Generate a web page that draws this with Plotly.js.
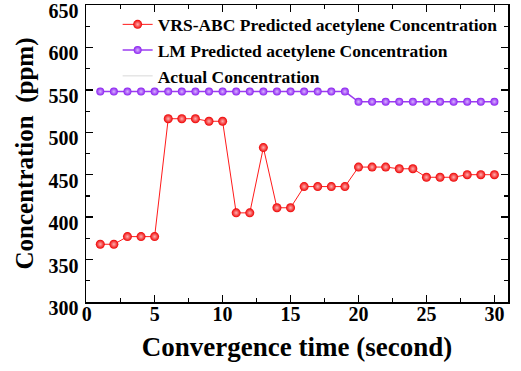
<!DOCTYPE html>
<html><head><meta charset="utf-8">
<script src="https://cdn.plot.ly/plotly-3.0.1.min.js"></script>
<style>html,body{margin:0;padding:0;background:#fff}#c{width:521px;height:371px}</style>
</head><body><div id="c"></div>
<script>
const time = [1,2,3,4,5,6,7,8,9,10,11,12,13,14,15,16,17,18,19,20,21,22,23,24,25,26,27,28,29,30];
const vrsAbc = [368,368,377,377,377,516,516,516,513,513,405,405,482,411,411,436,436,436,436,459,459,459,457,457,447,447,447,450,450,450];
const lm = [548,548,548,548,548,548,548,548,548,548,548,548,548,548,548,548,548,548,548,536,536,536,536,536,536,536,536,536,536,536];
const actualX = [null];
const actualY = [null];
const xTicks = [0,5,10,15,20,25,30];
const yTicks = [300,350,400,450,500,550,600,650];
const names = ['VRS-ABC Predicted acetylene Concentration','LM Predicted acetylene Concentration','Actual Concentration'];

const F = 'Liberation Serif, Times New Roman, serif';
const traces = [
  {x: time, y: vrsAbc, name: names[0], mode: 'lines+markers', type: 'scatter',
   line: {color: '#ff1a1a', width: 1},
   marker: {color: '#ee0000', size: 9, gradient: {type: 'radial', color: '#ffb0b0'}}},
  {x: time, y: lm, name: names[1], mode: 'lines+markers', type: 'scatter',
   line: {color: '#9b3cf0', width: 1.5},
   marker: {color: '#8a1ff0', size: 8, gradient: {type: 'radial', color: '#d9b3ff'}}},
  {x: actualX, y: actualY, name: names[2], mode: 'lines', type: 'scatter',
   line: {color: '#d8d8d8', width: 1}}
];
const tickFont = {family: F, size: 20, color: '#000', weight: 'bold'};
const axBase = {showline: true, linecolor: '#000', linewidth: 1.5, mirror: 'ticks', ticks: 'inside',
  ticklen: 7, tickwidth: 1.5, tickcolor: '#000', showgrid: false, zeroline: false,
  ticklabeloverflow: 'allow', tickfont: tickFont};
const layout = {
  width: 521, height: 371, margin: {l: 86, r: 13, t: 5, b: 69},
  paper_bgcolor: '#fff', plot_bgcolor: '#fff', showlegend: true,
  font: {family: F, color: '#000'},
  xaxis: Object.assign({}, axBase, {range: [-0.05, 31], tickmode: 'array', tickvals: xTicks,
    ticklabelstandoff: -7,
    minor: {ticks: 'inside', ticklen: 4, tickwidth: 1.2, dtick: 2.5, tickcolor: '#000'},
    title: {text: 'Convergence time (second)', font: {family: F, size: 27, weight: 'bold', color: '#000'}, standoff: 13}}),
  yaxis: Object.assign({}, axBase, {range: [299.9, 650.1], tickmode: 'array', tickvals: yTicks,
    ticklabelshift: 6, ticklabelstandoff: 2,
    minor: {ticks: 'inside', ticklen: 4, tickwidth: 1.2, dtick: 25, tickcolor: '#000'},
    title: {text: 'Concentration  (ppm)', font: {family: F, size: 25, weight: 'bold', color: '#000'}, standoff: 8}}),
  legend: {x: 0.075, y: 0.995, xanchor: 'left', yanchor: 'top', bgcolor: 'rgba(0,0,0,0)',
    font: {family: F, size: 17.5, weight: 'bold', color: '#000'}, tracegroupgap: 0, itemwidth: 30}
};
Plotly.newPlot('c', traces, layout, {displayModeBar: false, staticPlot: true});
</script></body></html>
